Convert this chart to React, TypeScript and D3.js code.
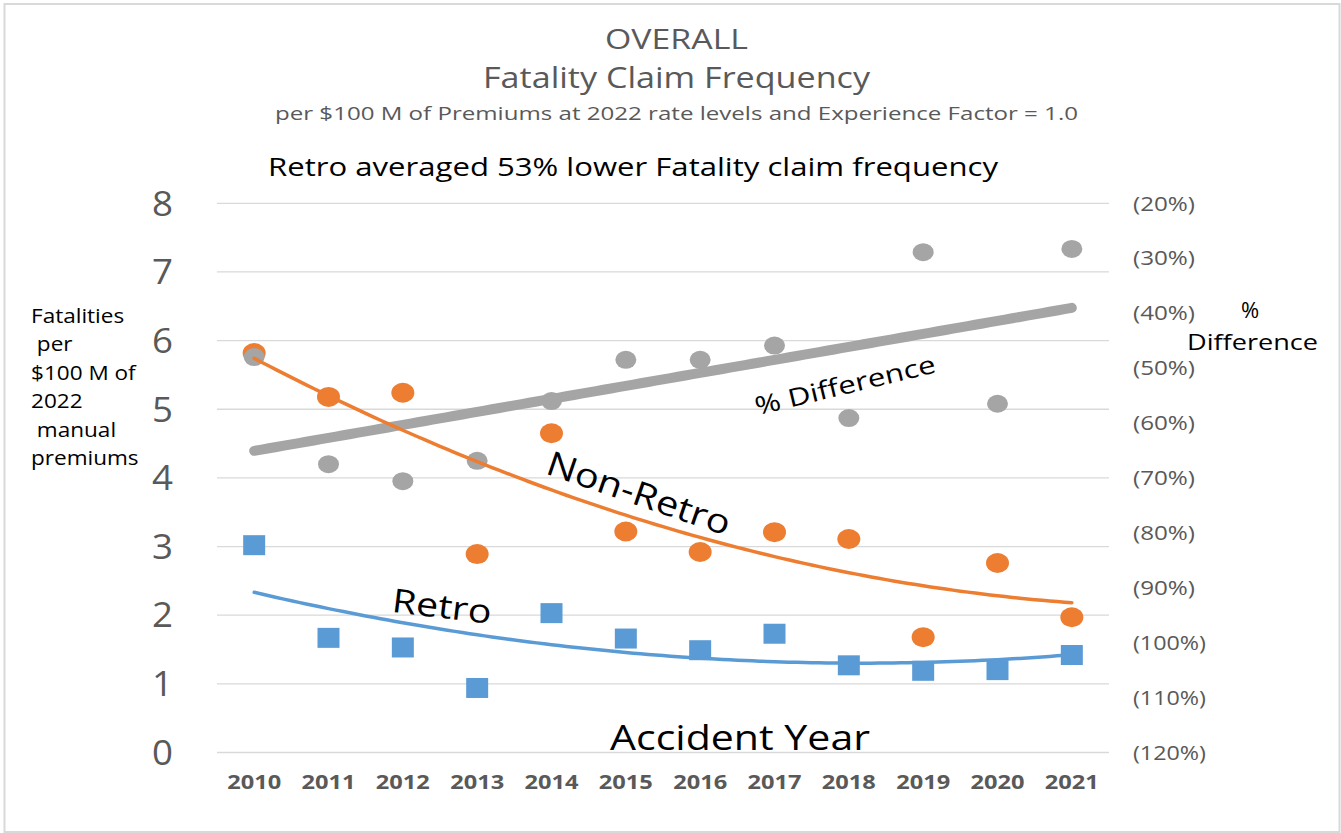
import React from "react";
import * as d3 from "d3";

const years = ["2010","2011","2012","2013","2014","2015","2016","2017","2018","2019","2020","2021"];
const retro = [3.02, 1.67, 1.53, 0.94, 2.03, 1.66, 1.49, 1.73, 1.27, 1.19, 1.2, 1.42];
const nonRetro = [5.82, 5.18, 5.24, 2.89, 4.65, 3.22, 2.92, 3.21, 3.11, 1.68, 2.76, 1.97];
const pctDiff = [-48.0, -67.5, -70.6, -66.9, -56.0, -48.5, -48.5, -45.9, -59.1, -28.9, -56.5, -28.3];
const leftTicks = [0, 1, 2, 3, 4, 5, 6, 7, 8];
const rightTicks = [-20, -30, -40, -50, -60, -70, -80, -90, -100, -110, -120];
const leftTitle = ["Fatalities", " per", "$100 M of", "2022", " manual", "premiums"];

const FONT = "'Open Sans', 'DejaVu Sans', sans-serif";
const W = 1341, H = 833;
const plotL = 217, plotR = 1109, plotT = 203.3, plotB = 752.5;

function polyFit(ys: number[], order: number): number[] {
  const n = order + 1;
  const A: number[][] = Array.from({ length: n }, () => new Array(n + 1).fill(0));
  ys.forEach((y, i) => {
    for (let r = 0; r < n; r++) {
      for (let c = 0; c < n; c++) A[r][c] += Math.pow(i, r + c);
      A[r][n] += y * Math.pow(i, r);
    }
  });
  for (let c = 0; c < n; c++) {
    let p = c;
    for (let r = c + 1; r < n; r++) if (Math.abs(A[r][c]) > Math.abs(A[p][c])) p = r;
    [A[c], A[p]] = [A[p], A[c]];
    for (let r = 0; r < n; r++) {
      if (r === c) continue;
      const f = A[r][c] / A[c][c];
      for (let k = c; k <= n; k++) A[r][k] -= f * A[c][k];
    }
  }
  return A.map((row, i) => row[n] / row[i]);
}
const evalPoly = (co: number[], x: number) => co.reduce((s, c, i) => s + c * Math.pow(x, i), 0);

type TP = { x: number; y: number; size: number; children: React.ReactNode; anchor?: string; fill?: string; len?: number; weight?: number | string; rot?: number; dy?: string; sx?: number };
function T({ x, y, size, children, anchor = "middle", fill = "#000", len, weight = 400, rot = 0, dy, sx = 1 }: TP) {
  return (
    <text
      transform={`translate(${x},${y}) rotate(${rot}) scale(${sx},1)`}
      textAnchor={anchor}
      fontFamily={FONT}
      fontSize={size}
      fontWeight={weight}
      fill={fill}
      dy={dy}
      textLength={len}
      lengthAdjust={len ? "spacingAndGlyphs" : undefined}
      style={{ whiteSpace: "pre" }}
    >
      {children}
    </text>
  );
}

export default function App() {
  const x = d3.scaleBand<string>().domain(years).range([plotL, plotR]).padding(0);
  const cx = (i: number) => (x(years[i]) as number) + x.bandwidth() / 2;
  const yL = d3.scaleLinear().domain([0, 8]).range([plotB, plotT]);
  const yR = d3.scaleLinear().domain([-120, -20]).range([plotB, plotT]);
  const xi = d3.scaleLinear().domain([0, years.length - 1]).range([cx(0), cx(years.length - 1)]);

  const samples = d3.range(0, 11.001, 0.1);
  const nrCo = polyFit(nonRetro, 2);
  const rCo = polyFit(retro, 2);
  const pCo = polyFit(pctDiff, 1);
  const lineL = d3.line<number>().x((t) => xi(t)).y((t) => yL(evalPoly(nrCo, t)));
  const lineR = d3.line<number>().x((t) => xi(t)).y((t) => yL(evalPoly(rCo, t)));
  const lineP = d3.line<number>().x((t) => xi(t)).y((t) => yR(evalPoly(pCo, t)));
  const fmtR = (v: number) => (v < 0 ? `(${Math.abs(v)}%)` : `${v}%`);

  return (
    <div style={{ position: "absolute", left: 0, top: 0 }}>
      <svg width={W} height={H} style={{ display: "block", background: "#fff" }}>
        <rect x={4.5} y={4} width={1335} height={828} fill="#fff" stroke="#d9d9d9" strokeWidth={2} />

        <T x={676.5} y={49} size={28} fill="#595959" len={143}>OVERALL</T>
        <T x={676.5} y={88} size={30} fill="#595959" len={387}>Fatality Claim Frequency</T>
        <T x={676.5} y={120} size={18.5} fill="#595959" len={803}>per $100 M of Premiums at 2022 rate levels and Experience Factor = 1.0</T>
        <T x={633} y={176} size={25} fill="#000" len={730}>Retro averaged 53% lower Fatality claim frequency</T>

        {leftTicks.map((t) => (
          <line key={"g" + t} x1={plotL} x2={plotR} y1={yL(t)} y2={yL(t)} stroke="#d9d9d9" strokeWidth={1.3} />
        ))}
        {leftTicks.map((t) => (
          <T key={"lt" + t} x={173} y={yL(t)} dy="0.36em" size={34} anchor="end" fill="#595959" len={21}>{String(t)}</T>
        ))}
        {rightTicks.map((t) => (
          <T key={"rt" + t} x={1133} y={yR(t)} dy="0.36em" size={20} anchor="start" fill="#595959" len={t <= -100 ? 73 : 62}>{fmtR(t)}</T>
        ))}
        {years.map((yr, i) => (
          <T key={"x" + yr} x={cx(i)} y={789} size={20} weight={700} fill="#595959" len={54}>{yr}</T>
        ))}

        {leftTitle.map((s, i) => (
          <T key={"la" + i} x={31} y={323 + i * 28.4} size={20.5} anchor="start" fill="#000" sx={1.1}>{s}</T>
        ))}
        <T x={1250} y={318} size={22} fill="#000">%</T>
        <T x={1252.5} y={350} size={22} fill="#000" len={131}>Difference</T>
        <T x={740} y={750} size={34} fill="#000" len={260}>Accident Year</T>

        {nonRetro.map((v, i) => (
          <ellipse key={"nr" + i} cx={cx(i)} cy={yL(v)} rx={11.5} ry={10} fill="#ed7d31" />
        ))}
        {pctDiff.map((v, i) => (
          <ellipse key={"pd" + i} cx={cx(i)} cy={yR(v)} rx={10.5} ry={9} fill="#a5a5a5" />
        ))}
        <path d={lineP(samples) || ""} fill="none" stroke="#a5a5a5" strokeWidth={10} strokeLinecap="round" />
        <path d={lineL(samples) || ""} fill="none" stroke="#ed7d31" strokeWidth={3.5} strokeLinecap="round" />
        {retro.map((v, i) => (
          <rect key={"r" + i} x={cx(i) - 11} y={yL(v) - 10} width={22} height={20} fill="#5b9bd5" />
        ))}
        <path d={lineR(samples) || ""} fill="none" stroke="#5b9bd5" strokeWidth={3.5} strokeLinecap="round" />

        <T x={639} y={493} rot={19} dy="0.36em" size={34} fill="#000" len={192}>Non-Retro</T>
        <T x={442} y={606} rot={7} dy="0.36em" size={33} fill="#000" len={100}>Retro</T>
        <T x={845} y={385} rot={-13.5} dy="0.36em" size={25} fill="#000" len={185}>% Difference</T>
      </svg>
    </div>
  );
}
